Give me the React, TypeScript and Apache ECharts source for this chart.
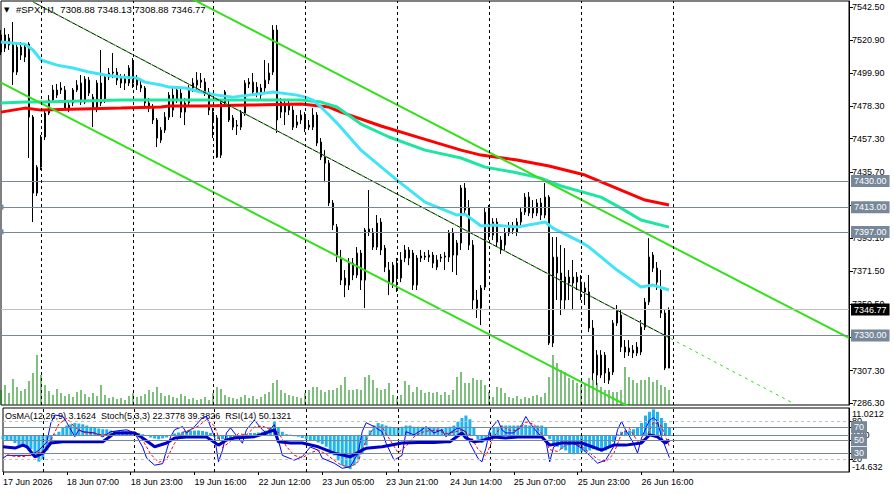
import React, { useEffect, useRef } from 'react';
import * as echarts from 'echarts';

const FONT = '"Liberation Sans", Arial, sans-serif';

const symbolTitle = '#SPX,H1';
const lastQuote = [7308.88, 7348.13, 7308.88, 7346.77];

// [open, close, low, high] per H1 bar, 17 Jun 2026 15:00 .. 26 Jun 2026
const candles = [
  [7513.4, 7524.4, 7511.4, 7527.6], [7524.4, 7515.9, 7513.4, 7528.9], [7517.9, 7522.4, 7514.7, 7525.0], [7517.9, 7500.4, 7492.0, 7532.8],
  [7500.4, 7516.6, 7498.5, 7518.5], [7516.6, 7511.4, 7508.2, 7519.8], [7510.1, 7516.6, 7506.9, 7518.5], [7518.5, 7471.3, 7444.8, 7519.8],
  [7471.3, 7422.1, 7403.4, 7472.6], [7422.1, 7438.9, 7420.2, 7440.2], [7438.9, 7458.4, 7437.0, 7459.7], [7458.4, 7473.9, 7456.4, 7475.8],
  [7473.9, 7482.3, 7472.6, 7485.5], [7482.3, 7488.8, 7480.4, 7492.0], [7485.5, 7488.8, 7483.6, 7492.7], [7488.8, 7490.1, 7486.2, 7493.9],
  [7488.8, 7477.1, 7475.8, 7491.4], [7477.1, 7479.1, 7474.5, 7482.3], [7480.4, 7488.8, 7478.4, 7490.1], [7488.8, 7492.0, 7487.5, 7495.2],
  [7493.3, 7481.0, 7479.1, 7498.5], [7481.0, 7495.9, 7479.7, 7497.8], [7495.2, 7486.8, 7484.9, 7497.2], [7484.2, 7477.1, 7464.8, 7486.2],
  [7477.1, 7493.3, 7474.5, 7495.2], [7493.3, 7480.4, 7478.4, 7514.7], [7482.3, 7497.2, 7480.4, 7499.1], [7497.2, 7499.8, 7495.2, 7503.0],
  [7499.8, 7500.4, 7496.5, 7512.7], [7500.4, 7495.2, 7492.0, 7503.0], [7493.3, 7496.5, 7490.1, 7499.1], [7496.5, 7493.3, 7488.8, 7499.1],
  [7493.3, 7503.0, 7491.4, 7504.9], [7506.2, 7493.3, 7490.1, 7509.5], [7496.5, 7492.0, 7488.8, 7498.5], [7492.0, 7490.1, 7487.5, 7495.2],
  [7490.1, 7480.4, 7478.4, 7491.4], [7480.4, 7477.1, 7474.5, 7483.6], [7477.1, 7469.4, 7466.8, 7479.7], [7469.4, 7457.7, 7451.9, 7470.7],
  [7456.4, 7462.9, 7454.5, 7464.8], [7462.9, 7471.3, 7461.0, 7474.5], [7471.3, 7485.5, 7469.4, 7487.5], [7485.5, 7475.8, 7471.3, 7490.1],
  [7482.3, 7488.8, 7480.4, 7491.4], [7486.8, 7474.5, 7470.7, 7490.1], [7474.5, 7480.4, 7466.1, 7483.6], [7480.4, 7490.1, 7478.4, 7492.0],
  [7490.1, 7493.3, 7487.5, 7496.5], [7492.0, 7495.2, 7488.8, 7500.4], [7495.2, 7493.9, 7490.1, 7499.8], [7493.9, 7487.5, 7484.9, 7496.5],
  [7487.5, 7475.8, 7472.6, 7490.1], [7474.5, 7469.4, 7457.7, 7477.1], [7470.7, 7445.4, 7444.8, 7472.6], [7446.7, 7480.4, 7444.8, 7482.3],
  [7480.4, 7487.5, 7478.4, 7488.8], [7477.8, 7469.4, 7468.1, 7482.3], [7470.7, 7464.8, 7462.9, 7472.6], [7466.1, 7465.5, 7459.7, 7469.4],
  [7464.8, 7473.9, 7462.9, 7475.8], [7473.9, 7493.3, 7472.0, 7495.2], [7492.7, 7493.9, 7490.1, 7496.5], [7493.9, 7487.5, 7485.5, 7499.8],
  [7490.7, 7486.8, 7484.2, 7493.9], [7490.1, 7485.5, 7482.3, 7492.7], [7490.1, 7495.2, 7487.5, 7508.2], [7495.2, 7499.8, 7492.7, 7506.2],
  [7500.4, 7527.6, 7498.5, 7530.8], [7527.6, 7469.4, 7461.0, 7530.8], [7474.5, 7481.0, 7470.7, 7483.6], [7479.1, 7474.5, 7466.1, 7482.3],
  [7475.8, 7479.1, 7472.6, 7482.3], [7475.8, 7464.8, 7462.9, 7478.4], [7468.1, 7466.1, 7464.2, 7472.6], [7469.4, 7472.6, 7466.8, 7475.8],
  [7472.6, 7464.2, 7461.6, 7474.5], [7464.8, 7466.1, 7462.9, 7469.4], [7464.8, 7472.6, 7462.9, 7477.1], [7472.6, 7454.5, 7452.5, 7474.5],
  [7455.1, 7445.4, 7443.5, 7457.7], [7445.4, 7441.5, 7429.2, 7449.9], [7441.5, 7415.7, 7413.7, 7443.5], [7415.7, 7401.4, 7398.2, 7417.6],
  [7400.1, 7382.0, 7377.5, 7402.1], [7380.1, 7365.8, 7362.6, 7385.3], [7367.1, 7362.6, 7354.8, 7372.3], [7362.6, 7377.5, 7359.4, 7380.1],
  [7376.8, 7369.1, 7365.8, 7380.1], [7369.1, 7383.3, 7367.1, 7387.2], [7383.3, 7365.8, 7359.4, 7385.3], [7365.8, 7398.2, 7347.7, 7399.5],
  [7398.8, 7396.9, 7394.3, 7424.1], [7396.9, 7387.2, 7385.3, 7399.5], [7387.2, 7402.7, 7385.3, 7407.9], [7403.4, 7385.3, 7382.0, 7405.9],
  [7386.5, 7374.2, 7371.0, 7388.5], [7372.3, 7364.5, 7356.1, 7377.5], [7364.5, 7375.5, 7360.7, 7377.5], [7376.8, 7367.1, 7358.1, 7380.1],
  [7367.1, 7378.8, 7364.5, 7384.0], [7380.1, 7385.3, 7377.5, 7388.5], [7385.3, 7380.1, 7375.5, 7387.2], [7383.3, 7362.6, 7359.4, 7385.3],
  [7362.6, 7380.1, 7359.4, 7382.0], [7380.1, 7381.4, 7377.5, 7385.3], [7381.4, 7380.7, 7378.8, 7384.0], [7380.7, 7382.0, 7377.5, 7385.3],
  [7382.0, 7376.8, 7373.6, 7384.0], [7374.2, 7378.8, 7372.3, 7382.0], [7380.1, 7380.7, 7377.5, 7382.7], [7380.7, 7381.4, 7372.3, 7384.0],
  [7380.7, 7396.2, 7377.5, 7398.2], [7396.2, 7382.0, 7371.0, 7399.5], [7382.0, 7389.8, 7369.1, 7391.7], [7389.8, 7425.4, 7385.3, 7427.3],
  [7425.4, 7411.1, 7409.2, 7428.6], [7412.4, 7388.5, 7385.3, 7417.6], [7388.5, 7352.9, 7346.4, 7391.7], [7352.9, 7347.7, 7341.3, 7359.4],
  [7347.7, 7360.7, 7336.7, 7362.6], [7361.3, 7409.8, 7359.4, 7412.4], [7412.4, 7394.9, 7391.7, 7414.4], [7394.9, 7403.4, 7391.7, 7405.9],
  [7403.4, 7390.4, 7387.8, 7405.9], [7385.3, 7391.7, 7382.7, 7394.3], [7388.5, 7396.2, 7385.3, 7399.5], [7396.2, 7399.5, 7394.3, 7403.4],
  [7398.2, 7400.8, 7395.6, 7403.4], [7396.9, 7403.4, 7394.3, 7405.9], [7403.4, 7409.8, 7400.8, 7412.4], [7409.8, 7419.5, 7407.9, 7422.1],
  [7419.5, 7409.2, 7407.2, 7422.8], [7412.4, 7409.2, 7405.9, 7417.6], [7409.2, 7415.7, 7407.2, 7418.2], [7415.7, 7407.9, 7404.7, 7418.9],
  [7407.9, 7419.5, 7405.9, 7428.6], [7419.5, 7325.1, 7323.8, 7420.8], [7325.1, 7380.7, 7322.5, 7393.7], [7380.7, 7370.4, 7352.9, 7393.7],
  [7370.4, 7352.9, 7343.2, 7388.5], [7352.9, 7367.8, 7346.4, 7386.5], [7363.9, 7367.8, 7352.9, 7372.3], [7367.8, 7363.9, 7346.4, 7378.8],
  [7364.5, 7367.8, 7359.4, 7371.0], [7364.5, 7359.4, 7352.9, 7369.1], [7360.7, 7358.1, 7349.7, 7364.5], [7358.1, 7334.8, 7332.2, 7369.1],
  [7334.8, 7305.7, 7301.1, 7340.0], [7317.3, 7304.4, 7297.9, 7320.5], [7304.4, 7317.3, 7302.4, 7320.5], [7317.3, 7305.7, 7299.2, 7319.3],
  [7301.1, 7306.3, 7298.6, 7308.9], [7306.3, 7338.0, 7304.4, 7340.0], [7338.0, 7346.4, 7336.1, 7349.7], [7343.2, 7322.5, 7319.3, 7346.4],
  [7322.5, 7319.3, 7315.4, 7327.0], [7319.3, 7321.8, 7316.7, 7327.0], [7320.5, 7318.6, 7315.4, 7323.8], [7318.6, 7322.5, 7316.7, 7325.7],
  [7319.3, 7335.4, 7317.3, 7340.0], [7335.4, 7351.6, 7333.5, 7354.2], [7351.6, 7380.7, 7349.7, 7393.0], [7382.0, 7373.6, 7371.0, 7384.0],
  [7373.6, 7364.5, 7359.4, 7377.5], [7359.4, 7344.5, 7341.3, 7372.3], [7344.5, 7308.9, 7307.6, 7346.4], [7308.88, 7346.77, 7308.88, 7348.13],
];

// tick volumes per bar
const volumes = [
  1500, 2000, 1200, 2600, 1800, 1400, 1600, 2400, 3200, 5000,
  3000, 2000, 1400, 1000, 1600, 1200, 900, 1100, 800, 1300,
  1500, 1100, 800, 1200, 900, 2000, 1000, 700, 800, 600,
  700, 500, 900, 1200, 800, 900, 1100, 1500, 1300, 1800,
  1200, 900, 1000, 800, 700, 1100, 900, 600, 700, 500,
  600, 800, 500, 1200, 1800, 1600, 1000, 800, 700, 600,
  800, 1000, 700, 900, 600, 800, 1100, 1300, 2200, 2500,
  1500, 1200, 1000, 900, 800, 700, 1200, 1500, 1800, 1800,
  1500, 1300, 1500, 1500, 1700, 2000, 2800, 1500, 1500, 1600,
  1500, 2800, 3000, 2500, 1700, 1500, 1600, 2200, 1000, 700,
  1000, 2400, 2000, 1300, 1800, 1500, 1200, 1300, 1200, 1300, 1000, 1300,
  1000, 1500, 2800, 3300, 2200, 2200, 2700, 2500, 2500, 2000, 1300, 800, 1800, 1700, 1200,
  800, 700, 900, 600, 800, 700, 900, 1000, 800, 1200,
  2800, 5000, 4200, 3500, 3300, 2700, 2500, 2200, 2000, 2200, 2700, 2500, 2200, 1800, 1500, 1500,
  1300, 1300, 1500, 3800, 2800, 2500, 2200, 2500, 2500, 2800, 2300, 2500, 2000, 1800, 1500,
];

// moving averages read at bar indices [bar, price]
const maFast = [
  [0, 7519.8], [6, 7518.5], [8, 7514.7], [10, 7508.2], [14, 7504.9], [18, 7503.0], [22, 7500.4], [26, 7498.5], [30, 7497.2],
  [34, 7496.5], [36, 7493.9], [40, 7492.0], [42, 7490.7], [46, 7490.1], [50, 7487.5], [54, 7485.5], [58, 7484.2], [62, 7485.5],
  [66, 7486.8], [68, 7487.5], [70, 7486.8], [74, 7485.5], [76, 7484.2], [78, 7482.3], [80, 7477.8], [82, 7472.6], [84, 7467.4],
  [90, 7449.9], [99, 7430.5], [106, 7416.3], [114, 7407.9], [116, 7408.5], [120, 7400.8], [123, 7401.4], [129, 7400.1],
  [136, 7403.4], [138, 7399.5], [145, 7390.4], [147, 7387.2], [154, 7372.3], [160, 7361.3], [163, 7362.6], [167, 7359.4],
];
const maMid = [
  [0, 7480.4], [6, 7481.0], [10, 7481.0], [20, 7481.7], [30, 7482.3], [40, 7482.3], [45, 7482.3], [62, 7482.3], [75, 7482.3],
  [80, 7481.0], [84, 7477.8], [90, 7466.8], [97, 7458.4], [106, 7449.9], [115, 7444.8], [121, 7438.9], [128, 7435.7],
  [135, 7431.8], [140, 7426.7], [150, 7419.5], [155, 7412.4], [160, 7404.7], [167, 7400.1],
];
const maSlow = [
  [0, 7474.5], [6, 7477.1], [10, 7475.8], [20, 7476.5], [30, 7477.1], [40, 7477.8], [42, 7478.4], [50, 7478.4], [62, 7479.1],
  [75, 7479.7], [82, 7477.8], [85, 7474.5], [95, 7465.5], [105, 7457.7], [115, 7449.9], [120, 7446.7], [129, 7443.5],
  [137, 7439.6], [146, 7433.8], [155, 7424.1], [161, 7417.6], [167, 7414.4],
];

// trend lines [bar, price]
const upperChannel = [[48, 7547.4], [212, 7328.4]];
const lowerChannel = [[0, 7493.6], [158, 7282.6]];
const midLine = [[8, 7545.8], [167, 7328.6]];
const midLineExt = [[8, 7545.8], [198, 7286.2]];

const levelLines = [7430.0, 7413.0, 7397.0, 7330.0];
const anchoredLevels = [7413.0, 7397.0];
const bidPrice = 7346.77;

const priceTicks = [7542.5, 7520.9, 7499.9, 7478.3, 7457.3, 7435.7, 7414.1, 7393.1, 7371.5, 7350.5, 7328.9, 7307.3, 7286.3];
const priceLabels = [7542.5, 7520.9, 7499.9, 7478.3, 7457.3, 7435.7, 7393.1, 7371.5, 7350.5, 7307.3, 7286.3];

const timeLabels = ['17 Jun 2026', '18 Jun 07:00', '18 Jun 23:00', '19 Jun 16:00', '22 Jun 12:00', '23 Jun 05:00',
  '23 Jun 21:00', '24 Jun 14:00', '25 Jun 07:00', '25 Jun 23:00', '26 Jun 16:00'];
const labelStep = 16;
const daySeparatorBars = [10, 33, 53, 76, 99, 122, 145, 168];
const futureSlots = 45;

// OsMA(12,26,9) histogram per bar
const osma = [
  -1.5, -2, -2, -3, -4, -4.5, -5, -5.5, -8, -10.5, -9.5, -6, -3, 0.5, 1.5,
  3, 4, 4.5, 5, 4.8, 4.5, 4, 3.5, 3, 2.8, 2.5, 2.5, 2,
  1.8, 2, 2, 2, 1.8, 1.5, 1, 0.5, 0, -0.8, -1.2, -1.5, -1.2, -0.8,
  0, 0.8, 1.2, 1.5, 1.8, 2, 2, 2, 1.8, 1.5, 1,
  -0.5, -1.5, -1.5, -1.2, -1, -1, -0.8, 0, 0.5, 1, 1, 1.2, 1.5, 2,
  3, 5.5, 3, 1.5, 0.5, 0.3, -0.3, -0.5,
  -1, -1.5, -1.8, -2.2, -2.8, -3.5, -4.5, -6, -8, -10, -12, -13, -13.5, -12, -10, -7.5, -4,
  2, 4, 5, 4.5, 4, 3.5, 3, 3, 3.5, 4, 4, 3.5, 3.5, 3.5, 3.2, 3, 3, 3, 2.8, 3,
  3.5, 4, 5.5, 7, 8, 6.5, 3, -1.5, -3, -2,
  1.5, 3, 3.5, 4, 4, 4, 4, 4, 4, 4.2, 4, 3.8, 4, 4, 3,
  -1.5, -3.5, -4.5, -5.5, -6, -7, -7.5, -7, -6.5, -6.5, -6, -5.5, -6, -6.5, -6, -5,
  -2.5, 0.5, 1.5, 2, 2, 2.5, 3, 5, 8, 9.5, 10.5, 9.5, 7, 5, 3.1624,
];

// Stochastic(5,3,3) main / signal and RSI(14), read at bar indices
const stochMain = [
  [0, 21.6], [1, 26], [5, 26], [7, 26], [9, 34], [11, 47], [12, 77], [13, 89], [15, 87], [16, 77], [18, 55], [19, 66], [20, 63],
  [23, 61], [25, 55], [27, 63], [31, 66], [33, 61], [35, 39], [36, 21.6], [38, 10.6], [40, 13], [41, 34], [42, 55], [43, 66],
  [45, 71], [46, 61], [48, 71], [50, 85], [51, 87], [53, 55], [54, 16], [55, 34], [56, 61], [57, 69], [58, 61], [60, 45],
  [61, 66], [63, 81], [65, 66], [66, 61], [68, 74], [69, 50], [70, 26], [73, 18.5], [75, 24], [77, 39], [79, 34], [80, 21.6],
  [83, 13.7], [85, 5.8], [87, 8], [89, 29.5], [90, 63], [91, 77], [93, 71], [95, 63], [96, 45], [98, 18.5], [100, 26],
  [101, 63], [103, 58], [105, 66], [106, 71], [108, 61], [110, 66], [111, 55], [112, 61], [114, 69], [116, 63], [117, 45],
  [119, 21.6], [120, 15.8], [121, 37], [122, 66], [124, 81], [125, 66], [126, 61], [128, 61], [130, 73.7], [131, 86.7],
  [132, 76.8], [134, 61], [136, 50], [137, 15.8], [138, 39.4], [140, 45], [143, 45], [145, 37], [147, 26], [149, 13.7],
  [151, 18.5], [153, 39.4], [154, 66], [155, 79], [156, 66], [158, 45], [159, 29.5], [160, 53], [162, 81], [163, 84.7],
  [164, 79], [165, 55], [167, 22.3778],
];
const stochSignal = [
  [0, 30], [2, 25], [5, 24], [8, 28], [10, 33], [12, 50], [14, 75], [16, 84], [18, 70], [20, 62], [23, 60], [25, 58], [28, 60],
  [31, 63], [33, 62], [35, 50], [37, 28], [39, 15], [41, 20], [43, 45], [45, 62], [47, 66], [49, 72], [51, 82], [53, 72],
  [55, 38], [57, 48], [59, 60], [61, 58], [63, 70], [65, 72], [67, 66], [69, 62], [71, 40], [73, 26], [75, 22], [77, 30],
  [79, 34], [81, 28], [83, 18], [85, 10], [87, 8], [89, 16], [91, 50], [93, 70], [95, 70], [97, 50], [99, 30], [101, 40],
  [103, 55], [105, 62], [107, 65], [109, 65], [111, 60], [113, 62], [115, 66], [117, 58], [119, 36], [121, 25], [123, 55],
  [125, 72], [127, 65], [129, 65], [131, 78], [133, 75], [135, 60], [137, 35], [139, 32], [141, 42], [143, 44], [145, 40],
  [147, 30], [149, 20], [151, 16], [153, 28], [155, 60], [157, 68], [159, 48], [161, 52], [163, 78], [165, 72], [167, 39.3826],
];
const rsi = [
  [0, 39.4], [3, 37.4], [5, 42], [6, 39.4], [8, 23.7], [10, 29.5], [12, 45.3], [15, 47.3], [21, 47.3], [25, 47.3], [28, 61],
  [33, 61], [35, 53.2], [38, 39.4], [41, 45.3], [43, 53.2], [46, 54.7], [51, 54.7], [54, 42], [56, 50], [58, 53.2], [63, 55.2],
  [66, 61], [68, 65.8], [69, 47.3], [72, 45.3], [75, 45.3], [79, 39.4], [83, 29.5], [87, 23.7], [90, 34.2], [91, 37],
  [95, 39.4], [100, 45.3], [104, 46], [108, 46], [111, 47.3], [112, 47.3], [115, 61], [116, 53.2], [118, 47.3], [120, 49],
  [123, 54.7], [126, 53.2], [130, 55.2], [135, 54.7], [137, 42], [140, 45.3], [145, 45.3], [150, 34.2], [153, 42], [156, 42],
  [160, 45.3], [162, 58], [164, 55], [166, 45], [167, 50.1321],
];
const oscLevelsSolid = [70, 50, 30];
const oscLevelsDashed = [80, 20];
const osmaRange = [-14.632, 11.0212];
const osmaLabels = [-14.632, 0, 11.0212];

const SLATE = '#778899';

export default function App() {
  const ref = useRef<HTMLDivElement>(null);
  useEffect(() => {
    if (!ref.current) return;
    const chart = echarts.init(ref.current, undefined, { renderer: 'svg' });
    const categories = Array.from({ length: candles.length + futureSlots }, (_, i) => String(i));
    const showTime = (index: number) => index % labelStep === 0 && index / labelStep < timeLabels.length;
    const separators = daySeparatorBars.map((b) => ({
      xAxis: b,
      lineStyle: { color: '#000', type: [3, 3], width: 1 },
      label: { show: false },
    }));
    const boxLabel = (text: string, bg: string) => ({
      show: true, position: 'end', formatter: text, backgroundColor: bg, color: '#fff',
      padding: [2, 3, 1, 3], fontSize: 9, fontFamily: FONT, distance: 2,
    });
    const last = (arr: number[][]) => arr[arr.length - 1][1];
    const header = `${symbolTitle}  ${lastQuote.map((v) => v.toFixed(2)).join(' ')}`;
    const subHeader = `OsMA(12,26,9) ${osma[osma.length - 1].toFixed(4)}  Stoch(5,3,3) ${last(stochMain).toFixed(4)} ${last(stochSignal).toFixed(4)}  RSI(14) ${last(rsi).toFixed(4)}`;

    const option: any = {
      animation: false,
      backgroundColor: '#ffffff',
      textStyle: { fontFamily: FONT },
      grid: [
        { left: 1, right: 45, top: 1, height: 404, show: true, borderColor: '#000', borderWidth: 1 },
        { left: 1, right: 45, top: 408, height: 64, show: true, borderColor: '#000', borderWidth: 1 },
      ],
      xAxis: [
        {
          type: 'category', gridIndex: 0, data: categories, boundaryGap: false,
          axisLine: { show: false }, axisTick: { show: false }, axisLabel: { show: false }, splitLine: { show: false },
        },
        {
          type: 'category', gridIndex: 1, data: categories, boundaryGap: false,
          axisLine: { show: false },
          axisTick: { show: true, interval: showTime, length: 3, lineStyle: { color: '#000' } },
          axisLabel: {
            interval: showTime, formatter: (v: string) => timeLabels[Number(v) / labelStep] ?? '',
            align: 'left', fontSize: 9, color: '#000', margin: 5,
          },
          splitLine: { show: false },
        },
      ],
      yAxis: [
        {
          type: 'value', gridIndex: 0, position: 'right', min: 7285.0, max: 7546.4,
          axisLine: { show: true, lineStyle: { color: '#000' } },
          axisTick: { show: true, customValues: priceTicks, length: 4, lineStyle: { color: '#000' } },
          axisLabel: { customValues: priceLabels, formatter: (v: number) => v.toFixed(2), fontSize: 9, color: '#000', margin: 3 },
          splitLine: { show: false },
        },
        { type: 'value', gridIndex: 0, min: 0, max: 40400, show: false },
        {
          type: 'value', gridIndex: 1, position: 'right', min: 0, max: 100,
          axisLine: { show: true, lineStyle: { color: '#000' } },
          axisTick: { show: true, customValues: [80, 70, 50, 30, 20], length: 4, lineStyle: { color: '#000' } },
          axisLabel: { customValues: oscLevelsDashed, fontSize: 9, color: '#000', margin: 3 },
          splitLine: { show: false },
        },
        {
          type: 'value', gridIndex: 1, position: 'right', min: osmaRange[0], max: osmaRange[1],
          axisLine: { show: false }, axisTick: { show: false },
          axisLabel: {
            customValues: osmaLabels, margin: 3,
            formatter: (v: number) => (v > 0 ? `{top|${v.toFixed(4)}}` : v < 0 ? `{bot|${v.toFixed(3)}}` : `{mid|${v.toFixed(2)}}`),
            rich: {
              top: { padding: [11, 0, 0, 0], fontSize: 9, color: '#000', fontFamily: FONT },
              bot: { padding: [0, 0, 11, 0], fontSize: 9, color: '#000', fontFamily: FONT },
              mid: { fontSize: 9, color: '#000', fontFamily: FONT },
            },
          },
          splitLine: { show: false },
        },
      ],
      graphic: [
        { type: 'text', left: 4, top: 6, style: { text: '▼', font: '7px "DejaVu Sans"', fill: '#000' } },
        { type: 'text', left: 16, top: 4, style: { text: header, font: `9.5px ${FONT}`, fill: '#000' } },
        { type: 'text', left: 5, top: 411, style: { text: subHeader, font: `9px ${FONT}`, fill: '#000' } },
      ],
      series: [
        {
          type: 'bar', xAxisIndex: 0, yAxisIndex: 1, data: volumes, barWidth: 1, silent: true, z: 1,
          itemStyle: { color: '#008000' },
        },
        {
          type: 'candlestick', xAxisIndex: 0, yAxisIndex: 0, data: candles, barWidth: 2, silent: true, z: 2,
          itemStyle: { color: '#ffffff', color0: '#000000', borderColor: '#000000', borderColor0: '#000000', borderWidth: 1 },
          markLine: {
            silent: true, symbol: 'none', animation: false,
            data: [
              ...levelLines.map((p) => ({
                yAxis: p,
                symbol: anchoredLevels.includes(p) ? ['emptyRect', 'emptyRect'] : 'none',
                symbolSize: 5,
                itemStyle: { color: SLATE },
                lineStyle: { color: SLATE, type: 'solid', width: 1 },
                label: boxLabel(p.toFixed(2), SLATE),
              })),
              {
                yAxis: bidPrice,
                lineStyle: { color: '#c0c0c0', type: 'solid', width: 1 },
                label: boxLabel(bidPrice.toFixed(2), '#000000'),
              },
              ...separators,
            ],
          },
        },
        { type: 'line', xAxisIndex: 0, yAxisIndex: 0, data: maSlow, showSymbol: false, silent: true, z: 3, lineStyle: { color: '#ff0000', width: 3 } },
        { type: 'line', xAxisIndex: 0, yAxisIndex: 0, data: maMid, showSymbol: false, silent: true, z: 3, lineStyle: { color: '#1ee6a0', width: 3 } },
        { type: 'line', xAxisIndex: 0, yAxisIndex: 0, data: maFast, showSymbol: false, silent: true, z: 3, lineStyle: { color: '#40e4f4', width: 3 } },
        { type: 'line', xAxisIndex: 0, yAxisIndex: 0, data: upperChannel, showSymbol: false, silent: true, z: 4, lineStyle: { color: '#33e01a', width: 2 } },
        { type: 'line', xAxisIndex: 0, yAxisIndex: 0, data: lowerChannel, showSymbol: false, silent: true, z: 4, lineStyle: { color: '#33e01a', width: 2 } },
        { type: 'line', xAxisIndex: 0, yAxisIndex: 0, data: midLine, showSymbol: false, silent: true, z: 4, lineStyle: { color: '#000000', width: 1 } },
        { type: 'line', xAxisIndex: 0, yAxisIndex: 0, data: midLineExt, showSymbol: false, silent: true, z: 4, lineStyle: { color: '#33e01a', width: 1, type: [3, 4] } },
        {
          type: 'bar', xAxisIndex: 1, yAxisIndex: 3, data: osma, barWidth: 3, silent: true, z: 1,
          itemStyle: { color: '#1eb4f0' },
          markLine: {
            silent: true, symbol: 'none', animation: false,
            data: [
              { yAxis: 0, lineStyle: { color: SLATE, type: 'solid', width: 1 }, label: { show: false } },
              ...separators,
            ],
          },
        },
        {
          type: 'line', xAxisIndex: 1, yAxisIndex: 2, data: stochMain, showSymbol: false, silent: true, z: 3,
          lineStyle: { color: '#0000ff', width: 1 },
          markLine: {
            silent: true, symbol: 'none', animation: false,
            data: [
              ...oscLevelsDashed.map((v) => ({ yAxis: v, lineStyle: { color: '#c0c0c0', type: [3, 3], width: 1 }, label: { show: false } })),
              ...oscLevelsSolid.map((v) => ({ yAxis: v, lineStyle: { color: SLATE, type: 'solid', width: 1 }, label: boxLabel(String(v), SLATE) })),
            ],
          },
        },
        { type: 'line', xAxisIndex: 1, yAxisIndex: 2, data: stochSignal, showSymbol: false, silent: true, z: 3, lineStyle: { color: '#ff0000', width: 1, type: [3, 2] } },
        { type: 'line', xAxisIndex: 1, yAxisIndex: 2, data: rsi, showSymbol: false, silent: true, z: 4, lineStyle: { color: '#0000c8', width: 3 } },
      ],
    };
    chart.setOption(option);
    return () => chart.dispose();
  }, []);
  return <div ref={ref} style={{ position: 'fixed', left: 0, top: 0, width: 894, height: 494, background: '#fff' }} />;
}
